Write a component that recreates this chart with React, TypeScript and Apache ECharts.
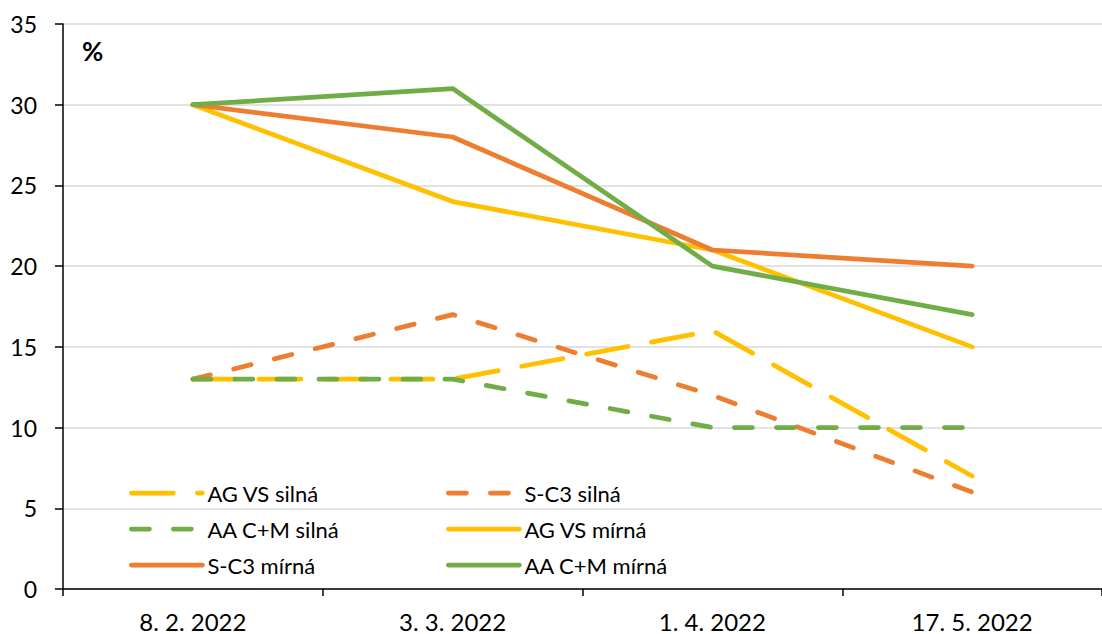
import React, { useEffect, useRef } from "react";
import * as echarts from "echarts";

const categories = ["8. 2. 2022", "3. 3. 2022", "1. 4. 2022", "17. 5. 2022"];
const agVsSilna = [13, 13, 16, 7];
const sc3Silna = [13, 17, 12, 6];
const aaCmSilna = [13, 13, 10, 10];
const agVsMirna = [30, 24, 21, 15];
const sc3Mirna = [30, 28, 21, 20];
const aaCmMirna = [30, 31, 20, 17];
const yTicks = { min: 0, max: 35, interval: 5 };

const YELLOW = "#FFC000";
const ORANGE = "#ED7D31";
const GREEN = "#70AD47";
const FONT = "Lato, 'Open Sans', sans-serif";
const LW = 4.75;

export default function App() {
  const ref = useRef<HTMLDivElement>(null);
  useEffect(() => {
    if (!ref.current) return;
    const chart = echarts.init(ref.current, undefined, { renderer: "svg" });
    const mk = (name: string, data: number[], color: string, type: any) => ({
      name,
      type: "line",
      data,
      symbol: "none",
      itemStyle: { color },
      lineStyle: { color, width: LW, type, cap: "round", join: "round" },
    });
    const legendText = { color: "#000", fontSize: 22, fontFamily: FONT, lineHeight: 22 };
    const legendBase = {
      orient: "vertical",
      top: 477,
      itemWidth: 71,
      itemHeight: 14,
      itemGap: 14,
      itemStyle: { opacity: 0 },
      lineStyle: { width: LW, cap: "round" },
      textStyle: legendText,
    };
    chart.setOption({
      animation: false,
      textStyle: { fontFamily: FONT },
      grid: { left: 63, top: 24, width: 1050, height: 565, containLabel: false },
      xAxis: {
        type: "category",
        data: categories,
        boundaryGap: true,
        axisLine: { lineStyle: { color: "#000", width: 1.5 } },
        axisTick: { show: true, length: 7, lineStyle: { color: "#000", width: 1.5 } },
        axisLabel: { color: "#000", fontSize: 24, margin: 20, fontFamily: FONT },
        splitLine: { show: false },
      },
      yAxis: {
        type: "value",
        min: yTicks.min,
        max: yTicks.max,
        interval: yTicks.interval,
        axisLine: { show: true, lineStyle: { color: "#000", width: 1.5 } },
        axisTick: { show: true, length: 8, lineStyle: { color: "#000", width: 1.5 } },
        axisLabel: { color: "#000", fontSize: 23, margin: 26, fontFamily: FONT },
        splitLine: { lineStyle: { color: "#D9D9D9", width: 1.5 } },
      },
      legend: [
        { ...legendBase, left: 124, data: ["AG VS silná", "AA C+M silná", "S-C3 mírná"] },
        { ...legendBase, left: 441, data: ["S-C3 silná", "AG VS mírná", "AA C+M mírná"] },
      ],
      graphic: [
        {
          type: "text",
          left: 82,
          top: 38,
          style: { text: "%", font: `bold 26px ${FONT}`, fill: "#000" },
        },
      ],
      series: [
        mk("AG VS silná", agVsSilna, YELLOW, [42, 24]),
        mk("S-C3 silná", sc3Silna, ORANGE, [18, 24]),
        mk("AA C+M silná", aaCmSilna, GREEN, [18, 24]),
        mk("AG VS mírná", agVsMirna, YELLOW, "solid"),
        mk("S-C3 mírná", sc3Mirna, ORANGE, "solid"),
        mk("AA C+M mírná", aaCmMirna, GREEN, "solid"),
      ],
    });
    return () => chart.dispose();
  }, []);
  return (
    <div
      ref={ref}
      style={{ position: "fixed", left: 0, top: 0, width: 1102, height: 634, background: "#fff" }}
    />
  );
}
